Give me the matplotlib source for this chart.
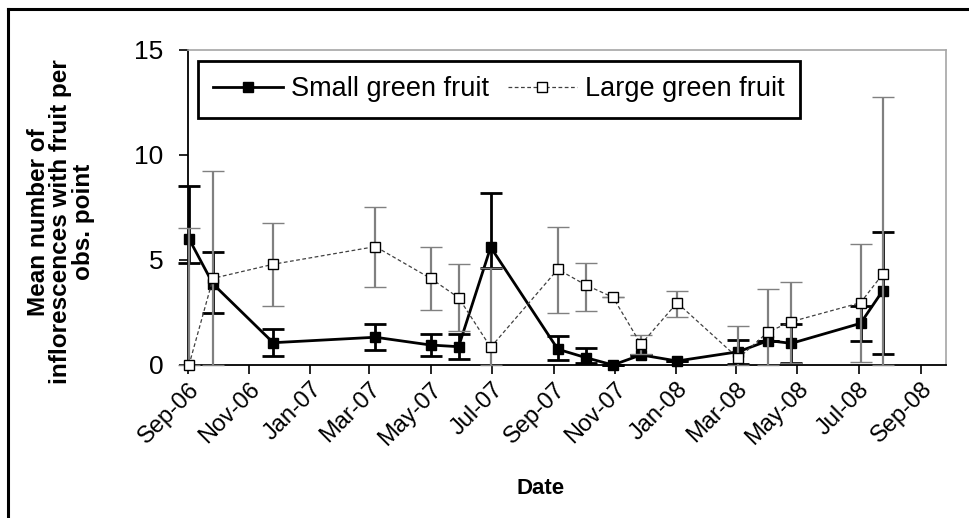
import matplotlib
matplotlib.use('Agg')
import matplotlib.pyplot as plt
from matplotlib.lines import Line2D
import numpy as np
import pandas as pd

plt.rcParams['font.family'] = ['Liberation Sans', 'DejaVu Sans']

# ---- data ----
dates = ['2006-09-02', '2006-09-26', '2006-11-25', '2007-03-07', '2007-05-01',
         '2007-05-29', '2007-06-30', '2007-09-05', '2007-10-03', '2007-10-30',
         '2007-11-27', '2008-01-02', '2008-03-03', '2008-04-02', '2008-04-25',
         '2008-07-03', '2008-07-25']

small_mean = [6.0, 3.85, 1.06, 1.32, 0.95, 0.87, 5.6, 0.75, 0.35, 0.0,
              0.48, 0.19, 0.63, 1.16, 1.03, 1.98, 3.52]
small_low = [4.85, 2.46, 0.45, 0.71, 0.43, 0.3, 4.6, 0.24, 0.1, 0.0,
             0.48, 0.19, 0.07, 1.16, 0.11, 1.14, 0.52]
small_high = [8.5, 5.39, 1.71, 1.95, 1.47, 1.46, 8.19, 1.38, 0.82, 0.0,
              0.48, 0.19, 1.19, 1.16, 1.95, 2.82, 6.34]

large_mean = [0.0, 4.12, 4.79, 5.63, 4.12, 3.2, 0.84, 4.55, 3.8, 3.22,
              0.98, 2.96, 0.32, 1.58, 2.06, 2.96, 4.31]
large_low = [0.0, 0.0, 2.8, 3.71, 2.62, 1.62, 0.0, 2.49, 2.57, 3.22,
             0.5, 2.27, 0.0, 0.0, 0.11, 0.13, 0.0]
large_high = [6.5, 9.22, 6.77, 7.53, 5.63, 4.79, 4.6, 6.55, 4.87, 3.22,
              1.43, 3.52, 1.87, 3.6, 3.93, 5.75, 12.76]

series_names = ['Small green fruit', 'Large green fruit']
x_tick_dates = ['2006-09-01', '2006-11-01', '2007-01-01', '2007-03-01', '2007-05-01',
                '2007-07-01', '2007-09-01', '2007-11-01', '2008-01-01', '2008-03-01',
                '2008-05-01', '2008-07-01', '2008-09-01']
x_tick_labels = ['Sep-06', 'Nov-06', 'Jan-07', 'Mar-07', 'May-07', 'Jul-07', 'Sep-07',
                 'Nov-07', 'Jan-08', 'Mar-08', 'May-08', 'Jul-08', 'Sep-08']
y_ticks = [0, 5, 10, 15]

# ---- figure ----
W, H = 969, 518
fig = plt.figure(figsize=(W / 100, H / 100), dpi=100)
ax = fig.add_axes([188 / W, (H - 365) / H, (945.7 - 188) / W, (365 - 49.5) / H])

d = pd.to_datetime(dates)
sm = np.array(small_mean)
lm = np.array(large_mean)
s_err = [sm - np.array(small_low), np.array(small_high) - sm]
l_err = [lm - np.array(large_low), np.array(large_high) - lm]

# small green fruit
s_line, s_caps, s_bars = ax.errorbar(d, sm, yerr=s_err, color='black', lw=2.0,
                                     marker='s', ms=7.5, mfc='black', mec='black',
                                     ecolor='black', elinewidth=2.0, capsize=8,
                                     capthick=2.0, zorder=3)
# large green fruit
l_line, l_caps, l_bars = ax.errorbar(d, lm, yerr=l_err, color='#404040', lw=0.9,
                                     ls=(0, (3, 2)), marker='s', ms=7.5, mfc='white',
                                     mec='black', mew=1.0, ecolor='#808080',
                                     elinewidth=1.6, capsize=8, capthick=1.3, zorder=4)
for c in l_caps:
    c.set_color('#303030')
for art in [s_line, l_line] + list(s_caps) + list(l_caps):
    art.set_clip_on(False)
for col in list(s_bars) + list(l_bars):
    col.set_clip_on(False)

ax.set_xlim(pd.Timestamp('2006-09-01'), pd.Timestamp('2008-09-26'))
ax.set_ylim(0, 15)
ax.set_yticks(y_ticks)
ax.set_xticks(pd.to_datetime(x_tick_dates))
ax.set_xticklabels(x_tick_labels, rotation=45, ha='right', rotation_mode='anchor')

for s in ['left', 'bottom']:
    ax.spines[s].set_color('black')
    ax.spines[s].set_linewidth(1.3)
for s in ['top', 'right']:
    ax.spines[s].set_color('#a6a6a6')
    ax.spines[s].set_linewidth(1.2)

ax.tick_params(axis='both', direction='out', length=6.5, width=1.2, colors='black')
ax.tick_params(axis='y', labelsize=19, pad=11)
ax.tick_params(axis='x', labelsize=17, pad=3)

# legend
handles = [Line2D([], [], color='black', lw=2.0, marker='s', ms=7.5, mfc='black', mec='black'),
           Line2D([], [], color='#404040', lw=0.9, ls=(0, (3, 2)), marker='s', ms=7.5,
                  mfc='white', mec='black', mew=1.0)]
leg = ax.legend(handles, series_names, loc='upper left',
                bbox_to_anchor=(198 / W, 1 - 61 / H), bbox_transform=fig.transFigure,
                ncol=2, fontsize=19.5, frameon=True, fancybox=False, edgecolor='black',
                borderpad=0.57, handlelength=2.55, handletextpad=0.3, columnspacing=0.7,
                borderaxespad=0, framealpha=1)
leg.get_frame().set_linewidth(2.0)

# axis titles
fig.text(61 / W, 1 - 222 / H, 'Mean number of\ninflorescences with fruit per\nobs. point',
         rotation=90, ha='center', va='center', fontsize=17.5, fontweight='bold',
         linespacing=0.95, multialignment='center')
fig.text(541 / W, 1 - 489 / H, 'Date', ha='center', va='center', fontsize=16,
         fontweight='bold')

# outer frame (left and top edges visible)
fig.add_artist(Line2D([8 / W, 8 / W], [0, 1 - 9 / H], transform=fig.transFigure,
                      color='black', lw=2.2))
fig.add_artist(Line2D([8 / W, 1], [1 - 9 / H, 1 - 9 / H], transform=fig.transFigure,
                      color='black', lw=2.2))

fig.savefig('out.png', dpi=100)
